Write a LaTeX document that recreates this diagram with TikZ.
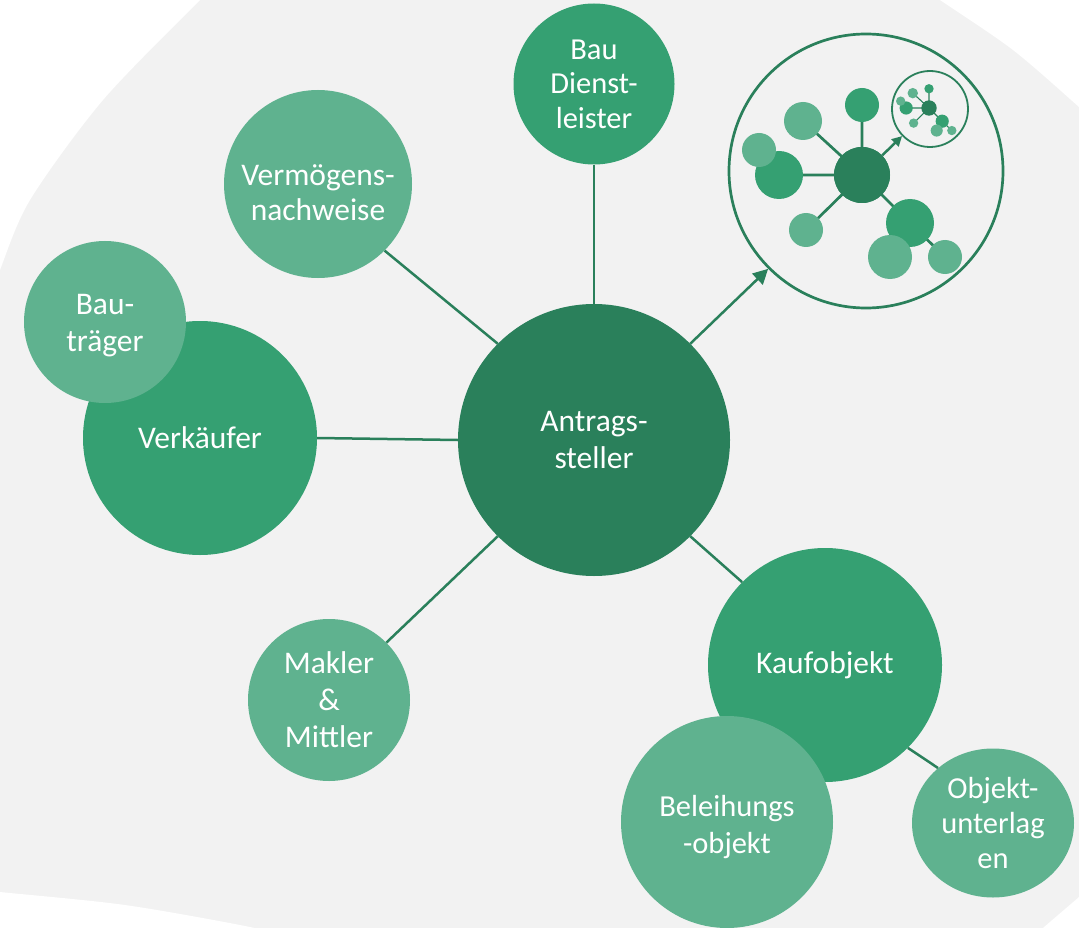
\documentclass[tikz,border=0pt]{standalone}
\usepackage{fontspec}
\setmainfont{Carlito}
\usetikzlibrary{shapes.geometric,arrows.meta}
\definecolor{bggray}{RGB}{242,242,242}
\definecolor{dk}{RGB}{42,128,91}
\definecolor{md}{RGB}{53,160,114}
\definecolor{lt}{RGB}{95,178,143}
\newcommand\molec[1]{%
  \draw[draw=dk,line width=#1] (0,0) -- (0,-70) (0,0) -- (-59,-54) (0,0) -- (-83,0)
     (0,0) -- (-56,55) (0,0) -- (48,48) -- (83,82);
  \fill[md] (0,-70) circle (17);
  \fill[lt] (-59,-54) circle (19);
  \fill[md] (-83,0) circle (24);
  \fill[lt] (-103,-25) circle (17);
  \fill[lt] (-56,55) circle (17);
  \fill[md] (48,48) circle (24);
  \fill[lt] (28,82) circle (22);
  \fill[lt] (83,82) circle (17);
  \fill[dk] (0,0) circle (28);
}
\begin{document}
\begin{tikzpicture}[x=1pt,y=-1pt,
  bubble/.style={circle,inner sep=0pt,text=white,align=center,font=\fontsize{31.5}{37}\selectfont},
  dkb/.style={bubble,fill=dk},
  mdb/.style={bubble,fill=md},
  ltb/.style={bubble,fill=lt},
  btext/.style={inner sep=0pt,text=white,align=center,font=\fontsize{31.5}{37}\selectfont},
  link/.style={draw=dk,line width=2.5pt},
]
\useasboundingbox (0,0) rectangle (1079,928);
\clip (0,0) rectangle (1079,928);
\fill[bggray] (0,0) rectangle (1079,928);
% white corners outside the grey blob
\fill[white] plot[smooth] coordinates {(215,-15) (200,0) (103,100) (30,200) (0,270) (-10,300)} -- (-10,-15) -- cycle;
\fill[white] plot[smooth] coordinates {(920,-14) (940,0) (1013,50) (1079,107) (1095,122)} -- (1095,-14) -- cycle;
\fill[white] plot[smooth] coordinates {(-15,890) (0,892) (125,905) (250,927) (270,935)} -- (-15,935) -- cycle;
\fill[white] plot[smooth] coordinates {(1095,882) (1079,897) (1043,928) (1035,936)} -- (1095,936) -- cycle;

% main bubbles
\node[dkb,minimum size=272pt] (ant) at (594,440) {Antrags-\\steller};
\node[mdb,minimum size=161pt,font=\fontsize{30.5}{34.5}\selectfont] (bau) at (594,84) {Bau\\Dienst-\\leister};
\node[ltb,minimum size=188pt] (verm) at (318,184) {};
\node[btext,font=\fontsize{31.5}{35}\selectfont] (vermtxt) at (318,193) {Vermögens-\\nachweise};
\node[mdb,minimum size=234pt] (verk) at (200,438) {Verkäufer};
\node[ltb,minimum size=162pt] (btr) at (105,322) {};
\node[btext] (btrtxt) at (105,326) {Bau-\\träger};
\node[ltb,minimum size=162pt] (mak) at (329,700) {Makler\\\&\\Mittler};
\node[mdb,minimum size=234pt] (kauf) at (825,665) {Kaufobjekt};
\node[ltb,minimum size=212pt] (bel) at (727,822) {};
\node[btext,font=\fontsize{30.5}{37}\selectfont] (beltxt) at (727,827) {Beleihungs\\-objekt};
\node[ltb,ellipse,minimum width=162pt,minimum height=149pt,font=\fontsize{30.5}{35}\selectfont] (obj) at (993,823) {Objekt-\\unterlag\\en};

% icon
\node[circle,draw=dk,line width=2.7pt,minimum size=274pt,inner sep=0pt] (icon) at (866,171) {};
\begin{scope}[shift={(862,175)}]
  \molec{2.7pt}
\end{scope}
\node[circle,fill=dk,minimum size=56pt,inner sep=0pt] (icc) at (862,175) {};
\node[circle,draw=dk,line width=1.8pt,minimum size=76pt,inner sep=0pt] (tiny) at (930,109) {};
\begin{scope}[shift={(929,108)},scale=0.275]
  \molec{1.1pt}
\end{scope}
\draw[link,-{Triangle[length=10pt,width=10pt]}] (icc) -- (tiny);

% connectors
\draw[link] (bau) -- (ant);
\draw[link] (verk.east) -- (ant.west);
\draw[link] (verm.-45) -- (ant.135);
\draw[link] (mak.45) -- (ant.225);
\draw[link] (ant.315) -- (kauf.135);
\draw[link] (kauf.-45) -- (obj.135);
\draw[link,-{Triangle[length=15pt,width=15pt]}] (ant.45) -- (icon.225);
\end{tikzpicture}
\end{document}
